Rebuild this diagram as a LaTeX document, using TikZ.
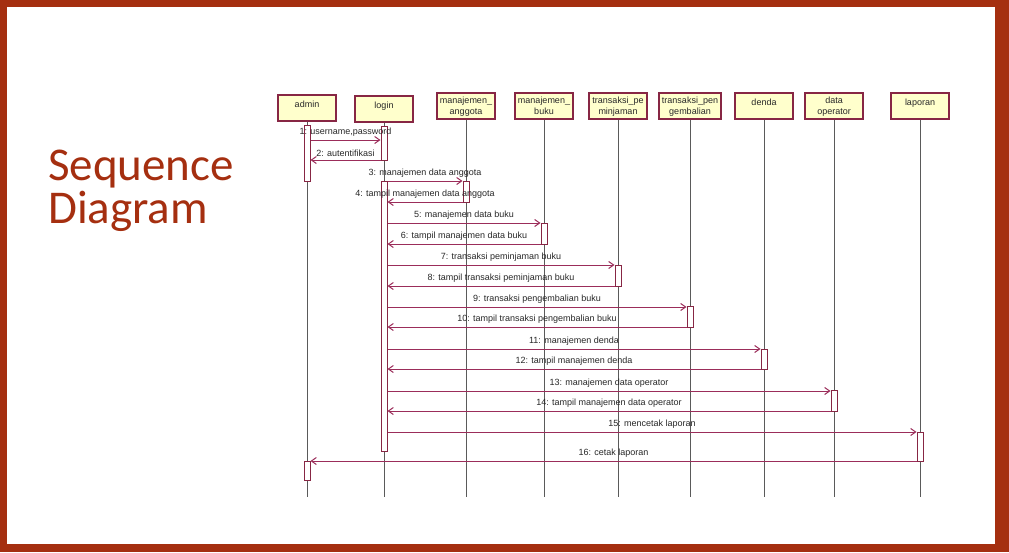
\documentclass[tikz,border=0pt]{standalone}
\usepackage{fontspec}
\setmainfont{Liberation Sans}
\newfontfamily\titlefont{Carlito}
\usetikzlibrary{arrows.meta}
\definecolor{frame}{RGB}{165,47,16}
\definecolor{titlecol}{RGB}{165,47,16}
\definecolor{msgcol}{RGB}{155,45,90}
\definecolor{boxline}{RGB}{135,38,68}
\definecolor{boxfill}{RGB}{255,255,204}
\definecolor{lifecol}{RGB}{90,90,90}
\definecolor{txt}{RGB}{40,40,40}
\tikzset{
  titletext/.style={text=titlecol, font=\titlefont\fontsize{47}{43}\selectfont, inner sep=0pt, anchor=base west},
  actor/.style={draw=boxline, fill=boxfill, line width=1.2pt, minimum width=58pt, minimum height=26pt, inner sep=0pt},
  hdr/.style={anchor=north, yshift=-5.5pt, inner sep=1pt, align=center, font=\fontsize{9}{11}\selectfont, text=txt},
  hdrtwo/.style={hdr, yshift=2pt},
  lifeline/.style={draw=lifecol, line width=0.8pt},
  act/.style={draw=boxline, fill=white, line width=1pt, minimum width=6pt, inner sep=0pt},
  msg/.style={draw=msgcol, line width=1pt, -{Straight Barb[length=5pt,width=7pt]}},
  lbl/.style={font=\fontsize{9}{10}\selectfont, text=txt, inner sep=1pt, above=2pt}
}
\begin{document}
\begin{tikzpicture}[x=1pt,y=-1pt]
\useasboundingbox (0,0) rectangle (1009,552);
\fill[frame] (0,0) rectangle (1009,552);
\fill[white] (7,7) rectangle (995,544);
% title
\node[titletext] (t1) at (48,180) {Sequence};
\node[titletext] (t2) at (48,223) {Diagram};
% actors
\node[actor, label={[hdr]north:admin}] (admin) at (307,108) {};
\node[actor, label={[hdr]north:login}] (login) at (384,109) {};
\node[actor, label={[hdrtwo]north:{manajemen\_\\anggota}}] (ang) at (466,106) {};
\node[actor, label={[hdrtwo]north:{manajemen\_\\buku}}] (buku) at (544,106) {};
\node[actor, label={[hdrtwo]north:{transaksi\_pe\\minjaman}}] (pem) at (618,106) {};
\node[actor, minimum width=62pt, label={[hdrtwo]north:{transaksi\_pen\\gembalian}}] (peng) at (690,106) {};
\node[actor, label={[hdr]north:denda}] (denda) at (764,106) {};
\node[actor, label={[hdrtwo]north:{data\\operator}}] (oper) at (834,106) {};
\node[actor, label={[hdr]north:laporan}] (lap) at (920,106) {};
% lifelines
\coordinate (bottom) at (0,497);
\foreach \n in {admin,login,ang,buku,pem,peng,denda,oper,lap}
  \draw[lifeline] (\n.south) -- (\n.south |- bottom);
% activations
\node[act, minimum height=56pt] (adminA1) at (admin.south |- 0,153) {};
\node[act, minimum height=19pt] (adminA2) at (admin.south |- 0,470.5) {};
\node[act, minimum height=34pt] (loginA1) at (login.south |- 0,143) {};
\node[act, minimum height=270pt] (loginA2) at (login.south |- 0,316) {};
\node[act, minimum height=21pt] (angA) at (ang.south |- 0,191.5) {};
\node[act, minimum height=21pt] (bukuA) at (buku.south |- 0,233.5) {};
\node[act, minimum height=21pt] (pemA) at (pem.south |- 0,275.5) {};
\node[act, minimum height=21pt] (pengA) at (peng.south |- 0,316.5) {};
\node[act, minimum height=20pt] (dendaA) at (denda.south |- 0,359) {};
\node[act, minimum height=21pt] (operA) at (oper.south |- 0,400.5) {};
\node[act, minimum height=29pt] (lapA) at (lap.south |- 0,446.5) {};
% messages
\draw[msg] (adminA1.east |- 0,140) -- node[lbl]{1: username,password} (loginA1.west |- 0,140);
\draw[msg] (loginA1.west |- 0,160) -- node[lbl]{2: autentifikasi} (adminA1.east |- 0,160);
\draw[msg] (loginA2.east |- 0,181) -- node[lbl]{3: manajemen data anggota} (angA.west |- 0,181);
\draw[msg] (angA.west |- 0,202) -- node[lbl]{4: tampil manajemen data anggota} (loginA2.east |- 0,202);
\draw[msg] (loginA2.east |- 0,223) -- node[lbl]{5: manajemen data buku} (bukuA.west |- 0,223);
\draw[msg] (bukuA.west |- 0,244) -- node[lbl]{6: tampil manajemen data buku} (loginA2.east |- 0,244);
\draw[msg] (loginA2.east |- 0,265) -- node[lbl]{7: transaksi peminjaman buku} (pemA.west |- 0,265);
\draw[msg] (pemA.west |- 0,286) -- node[lbl]{8: tampil transaksi peminjaman buku} (loginA2.east |- 0,286);
\draw[msg] (loginA2.east |- 0,307) -- node[lbl]{9: transaksi pengembalian buku} (pengA.west |- 0,307);
\draw[msg] (pengA.west |- 0,327) -- node[lbl]{10: tampil transaksi pengembalian buku} (loginA2.east |- 0,327);
\draw[msg] (loginA2.east |- 0,349) -- node[lbl]{11: manajemen denda} (dendaA.west |- 0,349);
\draw[msg] (dendaA.west |- 0,369) -- node[lbl]{12: tampil manajemen denda} (loginA2.east |- 0,369);
\draw[msg] (loginA2.east |- 0,391) -- node[lbl]{13: manajemen data operator} (operA.west |- 0,391);
\draw[msg] (operA.west |- 0,411) -- node[lbl]{14: tampil manajemen data operator} (loginA2.east |- 0,411);
\draw[msg] (loginA2.east |- 0,432) -- node[lbl]{15: mencetak laporan} (lapA.west |- 0,432);
\draw[msg] (lapA.west |- 0,461) -- node[lbl]{16: cetak laporan} (adminA2.east |- 0,461);
\end{tikzpicture}
\end{document}
